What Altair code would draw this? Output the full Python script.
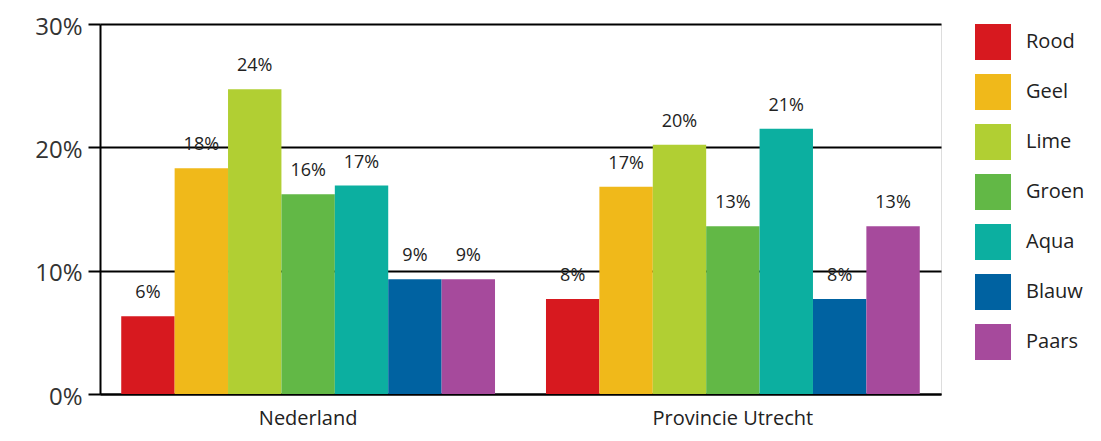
import altair as alt
import pandas as pd

groups = ["Nederland", "Provincie Utrecht"]
kleuren = ["Rood", "Geel", "Lime", "Groen", "Aqua", "Blauw", "Paars"]
nederland = [6.3, 18.3, 24.7, 16.2, 16.9, 9.3, 9.3]
utrecht = [7.7, 16.8, 20.2, 13.6, 21.5, 7.7, 13.6]
labels_nl = ["6%", "18%", "24%", "16%", "17%", "9%", "9%"]
labels_ut = ["8%", "17%", "20%", "13%", "21%", "8%", "13%"]
palette = ["#D7191F", "#F0B91A", "#B1CF33", "#62B846", "#0CAFA0", "#0062A1", "#A64A9C"]
y_ticks = [0, 10, 20, 30]

rows = []
for g, vals, labs in [(groups[0], nederland, labels_nl), (groups[1], utrecht, labels_ut)]:
    for k, v, l in zip(kleuren, vals, labs):
        rows.append({"groep": g, "kleur": k, "waarde": v, "label": l})
df = pd.DataFrame(rows)

FONT = "Open Sans"

x = alt.X("groep:N", sort=groups, title=None,
          scale=alt.Scale(paddingInner=0.12, paddingOuter=0.05),
          axis=alt.Axis(labelAngle=0, ticks=False, labelFontSize=20, labelPadding=14,
                        labelColor="#222222", labelFont=FONT, domainColor="black",
                        domainWidth=2))
xo = alt.XOffset("kleur:N", sort=kleuren, scale=alt.Scale(paddingInner=0, paddingOuter=0))
y = alt.Y("waarde:Q", title=None,
          scale=alt.Scale(domain=[0, 30], nice=False),
          axis=alt.Axis(values=y_ticks, labelExpr="datum.value + '%'", labelFontSize=24,
                        labelFont=FONT, labelColor="#333333", labelPadding=6,
                        labelOffset=3,
                        tickSize=12, tickWidth=2, tickColor="black",
                        domainColor="black", domainWidth=2,
                        grid=True, gridColor="black", gridWidth=2, gridOpacity=1))

bars = alt.Chart(df).mark_bar(stroke=None).encode(
    x=x, xOffset=xo, y=y,
    color=alt.Color("kleur:N", sort=kleuren,
                    scale=alt.Scale(domain=kleuren, range=palette),
                    legend=alt.Legend(title=None, orient="right", offset=34,
                                      symbolType="square", symbolSize=1296,
                                      symbolStrokeWidth=0, symbolOpacity=1,
                                      labelFontSize=20, labelFont=FONT,
                                      labelColor="#222222", rowPadding=14,
                                      labelOffset=15)),
)

text = alt.Chart(df).mark_text(baseline="middle", dy=-23, fontSize=18, font=FONT,
                               color="#222222").encode(
    x=alt.X("groep:N", sort=groups), xOffset=xo, y=alt.Y("waarde:Q"),
    text="label:N",
)

chart = (bars + text).properties(
    width=841, height=370,
    autosize=alt.AutoSizeParams(type="none"),
    padding={"left": 92, "top": 16, "right": 152, "bottom": 40},
).configure_view(stroke="black", strokeWidth=2).configure(background="white")

chart.save("out.html", embed_options={"renderer": "svg", "actions": False})
